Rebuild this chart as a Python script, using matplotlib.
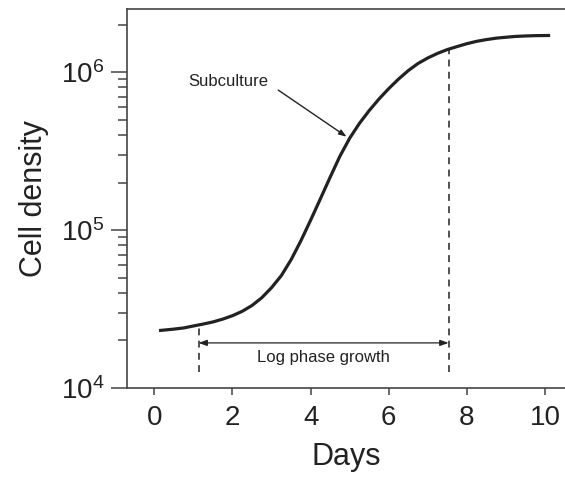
import matplotlib.pyplot as plt
import numpy as np

plt.rcParams['font.family'] = ['Liberation Sans', 'DejaVu Sans']
plt.rcParams['mathtext.fontset'] = 'custom'
plt.rcParams['mathtext.rm'] = 'Liberation Sans'
plt.rcParams['mathtext.it'] = 'Liberation Sans'

# growth curve
days = [0.12, 0.5, 0.75, 1.0, 1.25, 1.5, 1.75, 2.0, 2.25, 2.5, 2.75, 3.0,
        3.25, 3.5, 3.75, 4.0, 4.25, 4.5, 4.75, 5.0, 5.25, 5.5, 5.75, 6.0,
        6.25, 6.5, 6.75, 7.0, 7.25, 7.5, 7.75, 8.0, 8.25, 8.5, 8.75, 9.0,
        9.25, 9.5, 9.75, 10.13]
density = [2.31e4, 2.36e4, 2.40e4, 2.47e4, 2.54e4, 2.62e4, 2.73e4, 2.87e4,
           3.06e4, 3.33e4, 3.73e4, 4.32e4, 5.15e4, 6.49e4, 8.55e4, 1.156e5,
           1.578e5, 2.163e5, 2.938e5, 3.819e5, 4.742e5, 5.715e5, 6.761e5,
           7.870e5, 9.036e5, 1.023e6, 1.135e6, 1.230e6, 1.315e6, 1.390e6,
           1.452e6, 1.514e6, 1.567e6, 1.607e6, 1.641e6, 1.663e6, 1.683e6,
           1.694e6, 1.702e6, 1.706e6]

log_phase = [1.13, 7.53]          # start / end of log phase (days)
x_ticks = [0, 2, 4, 6, 8, 10]
y_ticks = [1e4, 1e5, 1e6]

ink = '#222222'
axis_col = '#444444'

fig = plt.figure(figsize=(5.65, 4.8), dpi=100)
ax = fig.add_axes([127 / 565, 92 / 480, 438 / 565, 379 / 480])

ax.plot(days, density, color=ink, lw=2.3, solid_capstyle='butt')
ax.set_yscale('log')
ax.set_xlim(-0.70, 10.51)
ax.set_ylim(1e4, 2.51e6)

# dashed markers for the log phase
log_days = np.log10(density)
for d in log_phase:
    top = 10 ** np.interp(d, days, log_days)
    ax.plot([d, d], [1.26e4, top], color=ink, lw=1.1, ls=(0, (4.5, 3.5)))

ax.annotate('', xy=(log_phase[1], 1.93e4), xytext=(log_phase[0], 1.93e4),
            arrowprops=dict(arrowstyle='<|-|>,head_length=0.5,head_width=0.18',
                            color=ink, lw=0.9, shrinkA=0, shrinkB=0))
ax.text(np.mean(log_phase), 1.57e4, 'Log phase growth', fontsize=12,
        color=ink, ha='center', va='center')

# subculture pointer
ax.annotate('', xy=(4.92, 3.9e5), xytext=(3.17, 7.7e5),
            arrowprops=dict(arrowstyle='-|>,head_length=0.45,head_width=0.16',
                            color=ink, lw=1.0, shrinkA=0, shrinkB=0))
ax.text(0.87, 8.77e5, 'Subculture', fontsize=12, color=ink,
        ha='left', va='center')

ax.spines['right'].set_visible(False)
for s in ['left', 'bottom', 'top']:
    ax.spines[s].set_color(axis_col)
    ax.spines[s].set_linewidth(1.2)

ax.set_xticks(x_ticks)
ax.set_yticks(y_ticks)
ax.tick_params(axis='x', which='major', direction='out', length=5, width=1.1,
               color=axis_col, labelsize=20, pad=7, labelcolor=ink)
ax.tick_params(axis='y', which='major', direction='out', length=11.5, width=1.1,
               color=axis_col, labelsize=20, pad=5, labelcolor=ink)
ax.tick_params(axis='y', which='minor', direction='out', length=6.5, width=1.1,
               color=axis_col)

ax.set_xlabel('Days', fontsize=22, color=ink, labelpad=8)
ax.set_ylabel('Cell density', fontsize=22, color=ink, labelpad=8)

plt.savefig('out.png', dpi=100)
